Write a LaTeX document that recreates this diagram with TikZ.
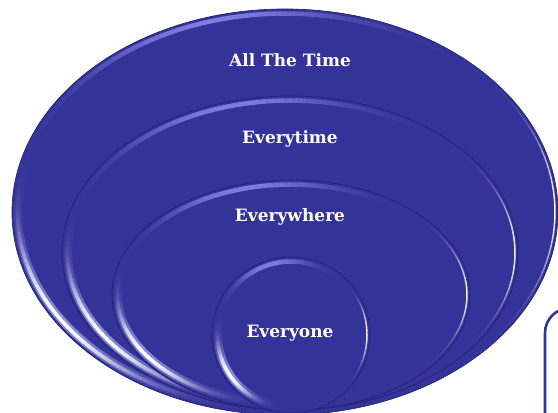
\documentclass[tikz,border=0pt]{standalone}
\usepackage{fontspec}
\setmainfont{DejaVu Serif}
\usetikzlibrary{shapes.geometric}
\definecolor{ringblue}{RGB}{51,51,153}
\definecolor{ringdark}{RGB}{35,35,110}
\definecolor{lav}{RGB}{150,150,250}
\definecolor{glowc}{RGB}{190,195,255}
\tikzset{
  ring/.style={ellipse, fill=ringblue, draw=ringdark, line width=0.7pt, inner sep=0pt},
  lbl/.style={text=white, font=\bfseries\fontsize{17}{20}\selectfont},
  frame/.style={draw=ringblue, line width=2.6pt, rounded corners=25pt},
  topglow/.style={lav, line width=4.5pt, line cap=butt},
  leftglow/.style={glowc, line width=8pt, line cap=butt},
  leftcore/.style={white, line width=3.6pt, line cap=butt},
  rightcore/.style={white, line width=1.5pt, line cap=butt}
}
% #1 cx, #2 cy, #3 rx, #4 ry, #5 peak angle, #6 sigma, #7 amplitude, #8 style, #9 inset
\newcommand\lobe[9]{%
  \pgfmathsetmacro\ta{#5-2.4*#6}%
  \pgfmathsetmacro\tb{\ta+2}%
  \pgfmathsetmacro\te{#5+2.4*#6}%
  \foreach \t in {\ta,\tb,...,\te}{%
    \pgfmathsetmacro\op{#7*exp(-((\t-#5)/#6)^2)}%
    \pgfmathsetmacro\tn{\t+2}%
    \draw[#8, opacity=\op]
      ({#1+(#3-#9)*cos(\t)},{#2-(#4-#9)*sin(\t)}) -- ({#1+(#3-#9)*cos(\tn)},{#2-(#4-#9)*sin(\tn)});
  }%
}
\newcommand\glowring[4]{%
  \lobe{#1}{#2}{#3}{#4}{105}{28}{0.75}{topglow}{4.5}%
  \lobe{#1}{#2}{#3}{#4}{212}{24}{0.6}{leftglow}{6}%
  \lobe{#1}{#2}{#3}{#4}{212}{21}{1}{leftcore}{5.5}%
  \lobe{#1}{#2}{#3}{#4}{0}{20}{0.95}{rightcore}{3}%
}
\begin{document}
\begin{tikzpicture}[x=1pt,y=-1pt]
\useasboundingbox (0,0) rectangle (558,413);
\begin{scope}
\clip (0,0) rectangle (558,413);
% outer frame at bottom right
\draw[frame] (545,308) coordinate (f1) rectangle (620,460) coordinate (f2);
% rings
\node[ring, minimum width=546pt, minimum height=406pt] (r1) at (285,212) {};
\glowring{285}{212}{273}{203}
\node[ring, minimum width=456pt, minimum height=314pt] (r2) at (290,253) {};
\glowring{290}{253}{228}{157}
\node[ring, minimum width=358pt, minimum height=230pt] (r3) at (291,295) {};
\glowring{291}{295}{179}{115}
\node[ring, minimum width=158pt, minimum height=156pt] (r4) at (291,335) {};
\glowring{291}{335}{79}{78}
\end{scope}
\node[lbl] (t1) at (290,60) {All The Time};
\node[lbl] (t2) at (290,139) {Everytime};
\node[lbl] (t3) at (290,217) {Everywhere};
\node[lbl] (t4) at (290,333) {Everyone};
\end{tikzpicture}
\end{document}
